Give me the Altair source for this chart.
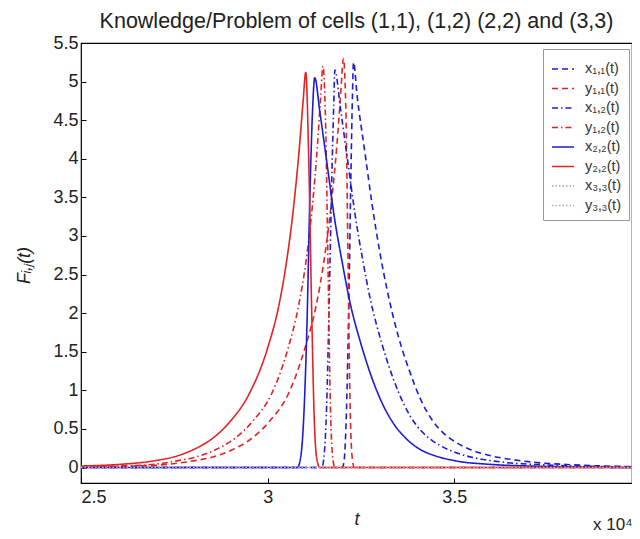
import altair as alt
import pandas as pd

# time in units of 10^4
x11_t = [2.5, 3.19, 3.2, 3.205, 3.212, 3.218, 3.223, 3.227, 3.23, 3.24, 3.26, 3.28, 3.3, 3.32, 3.35, 3.38, 3.41, 3.44, 3.47, 3.5, 3.55, 3.6, 3.66, 3.72, 3.8, 3.9, 4.0]
x11_v = [0, 0, 0.0, 0.1, 0.9, 2.3, 3.8, 4.8, 5.25, 4.8, 4.1, 3.4, 2.8, 2.3, 1.7, 1.25, 0.88, 0.62, 0.45, 0.34, 0.22, 0.15, 0.1, 0.065, 0.04, 0.02, 0.01]

y11_t = [2.5, 2.6, 2.7, 2.805, 2.855, 2.905, 2.955, 3.005, 3.055, 3.1, 3.13, 3.15, 3.17, 3.185, 3.195, 3.203, 3.21, 3.215, 3.22, 3.226, 3.232, 4.0]
y11_v = [0.005, 0.015, 0.03, 0.09, 0.14, 0.23, 0.37, 0.6, 0.95, 1.55, 2.1, 2.65, 3.4, 4.15, 4.8, 5.3, 4.5, 2.8, 1.0, 0.15, 0.0, 0.0]

x12_t = [2.5, 3.14, 3.145, 3.15, 3.158, 3.165, 3.172, 3.177, 3.18, 3.195, 3.215, 3.235, 3.255, 3.275, 3.305, 3.335, 3.365, 3.395, 3.425, 3.46, 3.5, 3.56, 3.63, 3.72, 3.82, 4.0]
x12_v = [0, 0, 0, 0.1, 0.8, 2.2, 3.8, 4.7, 5.15, 4.65, 3.95, 3.25, 2.68, 2.18, 1.62, 1.17, 0.82, 0.57, 0.41, 0.29, 0.2, 0.12, 0.07, 0.04, 0.02, 0.01]

y12_t = [2.5, 2.6, 2.7, 2.76, 2.81, 2.86, 2.91, 2.96, 3.01, 3.055, 3.083, 3.102, 3.12, 3.133, 3.142, 3.148, 3.155, 3.162, 3.168, 3.175, 3.18, 4.0]
y12_v = [0.01, 0.02, 0.045, 0.09, 0.14, 0.23, 0.37, 0.6, 0.95, 1.55, 2.1, 2.65, 3.4, 4.15, 4.8, 5.2, 4.5, 2.5, 0.8, 0.1, 0.0, 0.0]

x22_t = [2.5, 3.08, 3.085, 3.095, 3.105, 3.113, 3.12, 3.126, 3.14, 3.16, 3.18, 3.2, 3.22, 3.25, 3.28, 3.31, 3.34, 3.37, 3.4, 3.45, 3.5, 3.6, 3.7, 3.8, 4.0]
x22_v = [0, 0, 0.05, 0.5, 1.8, 3.5, 4.6, 5.05, 4.6, 3.9, 3.2, 2.65, 2.15, 1.6, 1.15, 0.8, 0.55, 0.38, 0.26, 0.15, 0.09, 0.04, 0.02, 0.01, 0.0]

y22_t = [2.5, 2.6, 2.7, 2.75, 2.8, 2.85, 2.9, 2.95, 3.0, 3.03, 3.05, 3.07, 3.085, 3.095, 3.102, 3.11, 3.118, 3.125, 3.132, 3.14, 4.0]
y22_v = [0.02, 0.04, 0.09, 0.14, 0.23, 0.37, 0.6, 0.95, 1.55, 2.1, 2.65, 3.4, 4.15, 4.75, 5.12, 4.0, 2.0, 0.6, 0.1, 0.0, 0.0]

x33_t = [2.5, 4.0]
x33_v = [0.0, 0.0]
y33_t = [2.5, 4.0]
y33_v = [0.0, 0.0]

series_names = ["x₁‚₁(t)", "y₁‚₁(t)", "x₁‚₂(t)", "y₁‚₂(t)", "x₂‚₂(t)", "y₂‚₂(t)", "x₃‚₃(t)", "y₃‚₃(t)"]
series_colors = ["#1c1cd6", "#e32222", "#1c1cd6", "#e32222", "#1c1cd6", "#e32222", "#9a9ac8", "#c8a0a0"]
series_dashes = [[6, 4], [6, 4], [6, 3, 1.5, 3], [6, 3, 1.5, 3], [1, 0], [1, 0], [1.5, 2], [1.5, 2]]
order_draw = [6, 7, 0, 1, 2, 3, 4, 5]

all_t = [x11_t, y11_t, x12_t, y12_t, x22_t, y22_t, x33_t, y33_t]
all_v = [x11_v, y11_v, x12_v, y12_v, x22_v, y22_v, x33_v, y33_v]

rows = []
for i, (ts, vs) in enumerate(zip(all_t, all_v)):
    for t, v in zip(ts, vs):
        rows.append({"t": t, "v": v, "series": series_names[i], "ord": order_draw[i]})
df = pd.DataFrame(rows)

W = 551
xmax = 2.5 + 1.5 * W / 560
FONT = "Liberation Sans"

legend_cfg = dict(title=None, orient="none", legendX=462, legendY=6,
                  symbolType="stroke", symbolSize=484, symbolStrokeWidth=1.6,
                  labelFontSize=14.5, labelFont=FONT, labelColor="#333",
                  rowPadding=0.5, labelOffset=10,
                  fillColor="white", strokeColor="#999", padding=8)

lines = alt.Chart(df).mark_line(strokeWidth=1.6, interpolate="monotone", clip=True).encode(
    x=alt.X("t:Q", scale=alt.Scale(domain=[2.5, xmax], nice=False),
            axis=alt.Axis(title="t", values=[2.5, 3.0, 3.5], format="~g",
                          offset=-5, tickSize=5, domain=False, grid=False,
                          labelFontSize=18, labelPadding=5, labelColor="#222",
                          titleFontSize=18, titleFontStyle="italic", titleFontWeight="normal",
                          titlePadding=4, tickColor="#000", labelFont=FONT,
                          titleFont=FONT, titleColor="#222")),
    y=alt.Y("v:Q", scale=alt.Scale(domain=[-0.2, 5.5], nice=False),
            axis=alt.Axis(title="Fᵢ‚ⱼ(t)", values=[0, 0.5, 1, 1.5, 2, 2.5, 3, 3.5, 4, 4.5, 5, 5.5],
                          format="~g", offset=-5, tickSize=5, domain=False, grid=False,
                          labelFontSize=18, labelPadding=3, labelColor="#222",
                          titleFontSize=18, titleFontWeight="normal", titleFontStyle="italic",
                          titleX=-53, titleY=222, titleAngle=-90, tickColor="#000",
                          labelFont=FONT, titleFont=FONT, titleColor="#222")),
    color=alt.Color("series:N", scale=alt.Scale(domain=series_names, range=series_colors),
                    legend=alt.Legend(**legend_cfg)),
    strokeDash=alt.StrokeDash("series:N", scale=alt.Scale(domain=series_names, range=series_dashes),
                              legend=alt.Legend(**legend_cfg)),
    order=alt.Order("ord:Q"),
    detail="series:N",
)

exp_label = alt.Chart(pd.DataFrame({"s": ["x 10⁴"]})).mark_text(
    fontSize=17, font=FONT, align="left", baseline="middle", color="#222"
).encode(x=alt.value(512), y=alt.value(482), text="s:N")

chart = alt.layer(lines, exp_label).properties(
    width=W, height=440,
    title=alt.TitleParams("Knowledge/Problem of cells (1,1), (1,2) (2,2) and (3,3)",
                          fontSize=21.5, font=FONT, fontWeight="normal",
                          color="#222", anchor="middle", offset=2),
    padding={"left": 73, "top": 35, "right": 0, "bottom": 56},
    autosize=alt.AutoSizeParams(type="none"),
).configure_view(stroke="#000", strokeWidth=1.2)

chart.save("out.html", embed_options={"renderer": "svg", "actions": False})
